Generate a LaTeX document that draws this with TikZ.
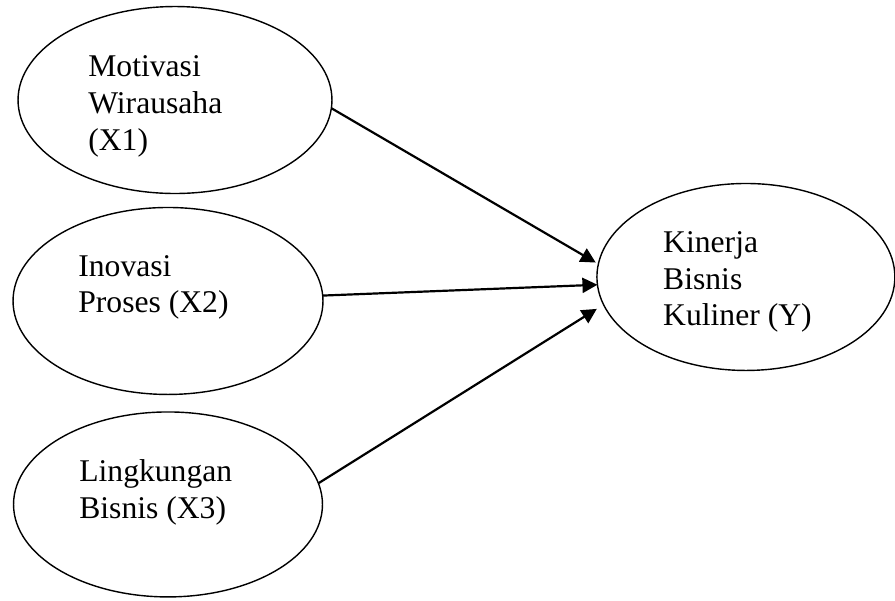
\documentclass[tikz,border=0pt]{standalone}
\usepackage{fontspec}
\setmainfont{Liberation Serif}
\usetikzlibrary{positioning}
\usetikzlibrary{shapes.geometric,arrows.meta}

\begin{document}
\begin{tikzpicture}[x=0.02cm,y=-0.02cm,
                    varellipse/.style={ellipse,
                                        inner sep=0mm,outer sep=0,
                                        draw=black, line width=0.8pt,
                                        minimum width=6.2cm,
                                        minimum height=3.74cm
                                      },
                    varlabel/.style={anchor=base west,
                                        align=left, inner sep=0mm,
                                        font=\fontsize{18}{21}\selectfont
                                      },
                    pathconnection/.style={
                                    line width=1.25pt,
                                    -{Triangle[length=0.3cm,width=0.3cm]}
                                    }
                     ]
  \useasboundingbox (0,0) rectangle (895,600);
  \node[varellipse,minimum width=6.28cm] (X1) at (175,100) { };
  \node[varellipse,below= 0.28cm of X1,xshift=-0.14cm] (X2) { };
  \node[varellipse,below= 0.35cm of X2,minimum width=6.18cm,minimum height=3.7cm] (X3) { };
  \node[varellipse,right= 5.48cm of X2,yshift=0.48cm,minimum width=5.96cm] (Y) { };

  % base anchor sits on the last line
  \node[varlabel] (tX1) at ([shift={(-87,50)}]X1.center) {Motivasi\\Wirausaha\\(X1)};
  \node[varlabel] (tX2) at ([shift={(-90,12)}]X2.center) {Inovasi\\Proses (X2)};
  \node[varlabel] (tX3) at ([shift={(-89,14)}]X3.center) {Lingkungan\\Bisnis (X3)};
  \node[varlabel] (tY) at ([shift={(-83,49)}]Y.center) {Kinerja\\Bisnis\\Kuliner (Y)};

  \draw [pathconnection, shorten >=0.06cm] (X1.-3) -- (Y.175);
  \draw [pathconnection] (X2.2) -- (Y.183);
  \draw [pathconnection, shorten >=0.16cm] (X3.8) -- (Y.191);

\end{tikzpicture}
\end{document}
